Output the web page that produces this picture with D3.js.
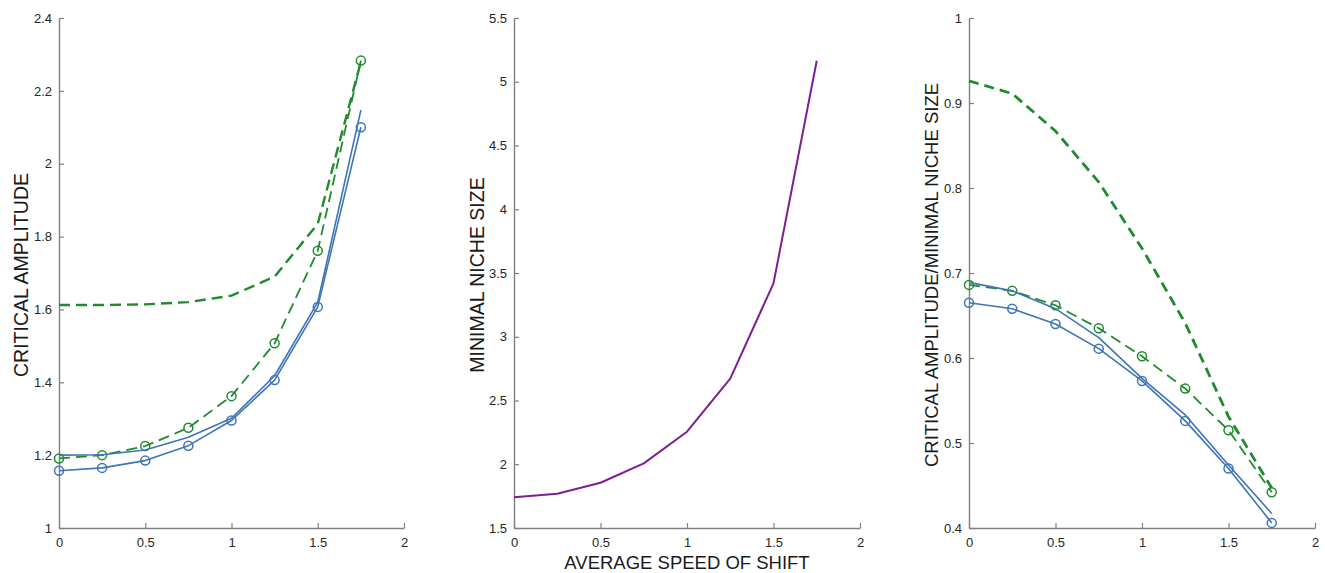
<!DOCTYPE html>
<html lang="en">

<head>
  <meta charset="UTF-8">
  <title>Critical amplitude and minimal niche size vs speed of shift</title>
  <script src="https://d3js.org/d3.v7.min.js"></script>
  <style>
    body {
      margin: 0;
      background: #fff;
    }

    text {
      font-family: Arial, "Liberation Sans", Helvetica, sans-serif;
    }
  </style>
</head>

<body>
  <script>
    // average speed of shift (x values shared by all panels)
    const speeds = [0, 0.25, 0.5, 0.75, 1, 1.25, 1.5, 1.75];

    // panel 1: critical amplitude
    const ampBlueMarked = [1.157, 1.165, 1.185, 1.226, 1.295, 1.406, 1.607, 2.100];
    const ampBluePlain = [1.200, 1.201, 1.214, 1.249, 1.301, 1.418, 1.620, 2.147];
    const ampGreenMarked = [1.191, 1.200, 1.225, 1.275, 1.362, 1.507, 1.761, 2.283];
    const ampGreenPlain = [1.612, 1.612, 1.614, 1.620, 1.638, 1.690, 1.835, 2.280];

    // panel 2: minimal niche size
    const nicheSize = [1.741, 1.769, 1.855, 2.007, 2.255, 2.671, 3.419, 5.165];

    // panel 3: critical amplitude / minimal niche size
    const ratioBlueMarked = [0.665, 0.658, 0.640, 0.611, 0.573, 0.526, 0.470, 0.406];
    const ratioBluePlain = [0.689, 0.679, 0.658, 0.624, 0.576, 0.533, 0.474, 0.417];
    const ratioGreenMarked = [0.686, 0.679, 0.662, 0.635, 0.602, 0.564, 0.515, 0.442];
    const ratioGreenPlain = [0.926, 0.911, 0.867, 0.807, 0.729, 0.641, 0.531, 0.447];

    // tick labels
    const xTicks = [0, 0.5, 1, 1.5, 2];
    const ampTicks = [1, 1.2, 1.4, 1.6, 1.8, 2, 2.2, 2.4];
    const nicheTicks = [1.5, 2, 2.5, 3, 3.5, 4, 4.5, 5, 5.5];
    const ratioTicks = [0.4, 0.5, 0.6, 0.7, 0.8, 0.9, 1];

    const W = 1325;
    const H = 573;
    const plotTop = 18;
    const plotBottom = 528;

    const blue = '#3d75b5';
    const green = '#1f8a2e';
    const purple = '#7c1f94';
    const axisGrey = '#808080';

    const svg = d3.select('body')
      .append('svg')
      .attr('width', W)
      .attr('height', H)

    const fmt = d => String(+d.toFixed(2))

    function panel(cfg) {
      const x = d3.scaleLinear().domain([0, 2]).range([cfg.left, cfg.right])
      const y = d3.scaleLinear().domain(cfg.yDomain).range([plotBottom, plotTop])

      const g = svg.append('g')

      // x axis (ticks inside, MATLAB style)
      const xa = g.append('g')
        .attr('transform', `translate(0,${plotBottom})`)
        .call(d3.axisBottom(x).tickValues(xTicks).tickFormat(fmt)
          .tickSizeInner(-5).tickSizeOuter(0).tickPadding(10))
      // y axis
      const ya = g.append('g')
        .attr('transform', `translate(${cfg.left},0)`)
        .call(d3.axisLeft(y).tickValues(cfg.yTicks).tickFormat(fmt)
          .tickSizeInner(-5).tickSizeOuter(0).tickPadding(7))

      for (const a of [xa, ya]) {
        a.select('.domain').attr('stroke', axisGrey).attr('stroke-width', 1.4)
        a.selectAll('.tick line').attr('stroke', axisGrey).attr('stroke-width', 1.2)
        a.selectAll('.tick text').attr('fill', '#262626').style('font-size', '13px')
      }

      const line = d3.line()
        .x((d, i) => x(speeds[i]))
        .y(d => y(d))

      cfg.series.forEach(s => {
        g.append('path')
          .datum(s.values)
          .attr('fill', 'none')
          .attr('stroke', s.color)
          .attr('stroke-width', s.width)
          .attr('stroke-dasharray', s.dash || null)
          .attr('stroke-linejoin', 'round')
          .attr('d', line)

        if (s.marker) {
          g.selectAll(null)
            .data(s.values)
            .enter()
            .append('circle')
            .attr('cx', (d, i) => x(speeds[i]))
            .attr('cy', d => y(d))
            .attr('r', 4.5)
            .attr('fill', 'none')
            .attr('stroke', s.color)
            .attr('stroke-width', 1.5)
        }
      })

      // y axis title
      g.append('text')
        .attr('transform', `translate(${cfg.labelX},${(plotTop + plotBottom) / 2 + 2}) rotate(-90)`)
        .attr('text-anchor', 'middle')
        .attr('dominant-baseline', 'central')
        .attr('fill', '#1a1a1a')
        .style('font-size', cfg.labelSize)
        .text(cfg.yLabel)

      return x
    }

    panel({
      left: 59, right: 404,
      yDomain: [1, 2.4], yTicks: ampTicks,
      labelX: 21, labelSize: '19.5px', yLabel: 'CRITICAL AMPLITUDE',
      series: [
        { values: ampGreenPlain, color: green, width: 2.4, dash: '11,6' },
        { values: ampGreenMarked, color: green, width: 1.8, dash: '11,6', marker: true },
        { values: ampBluePlain, color: blue, width: 1.6 },
        { values: ampBlueMarked, color: blue, width: 1.6, marker: true }
      ]
    })

    const xMid = panel({
      left: 514, right: 860,
      yDomain: [1.5, 5.5], yTicks: nicheTicks,
      labelX: 477, labelSize: '19.5px', yLabel: 'MINIMAL NICHE SIZE',
      series: [
        { values: nicheSize, color: purple, width: 2 }
      ]
    })

    panel({
      left: 969, right: 1315,
      yDomain: [0.4, 1], yTicks: ratioTicks,
      labelX: 931, labelSize: '18.5px', yLabel: 'CRITICAL AMPLITUDE/MINIMAL NICHE SIZE',
      series: [
        { values: ratioGreenPlain, color: green, width: 2.8, dash: '10,6' },
        { values: ratioGreenMarked, color: green, width: 1.8, dash: '11,6', marker: true },
        { values: ratioBluePlain, color: blue, width: 1.6 },
        { values: ratioBlueMarked, color: blue, width: 1.6, marker: true }
      ]
    })

    // shared x axis title under the middle panel
    svg.append('text')
      .attr('x', (xMid(0) + xMid(2)) / 2)
      .attr('y', 569)
      .attr('text-anchor', 'middle')
      .attr('fill', '#1a1a1a')
      .style('font-size', '18.5px')
      .text('AVERAGE SPEED OF SHIFT')
  </script>
</body>

</html>
